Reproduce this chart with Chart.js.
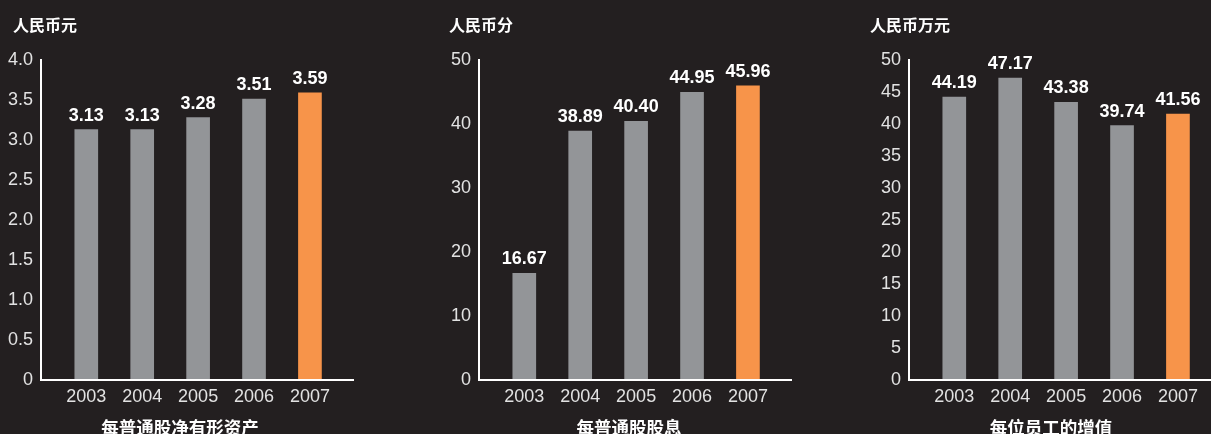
<!DOCTYPE html>
<html>
<head>
<meta charset="utf-8">
<script src="https://cdn.jsdelivr.net/npm/chart.js@4.4.0/dist/chart.umd.min.js"></script>
<style>
  html, body { margin: 0; padding: 0; background: #231f20; }
  #wrap { position: relative; width: 1211px; height: 434px; overflow: hidden; background: #231f20; }
  .panel { position: absolute; top: 0; height: 434px; }
  .unit, .caption {
    position: absolute; color: #fff; font-family: "Noto Sans CJK SC", sans-serif;
    font-weight: bold; white-space: nowrap; line-height: 1;
  }
  .unit { top: 16px; font-size: 16px; }
  .caption { top: 418px; font-size: 17.5px; transform: translateX(-50%); }
</style>
</head>
<body>
<div id="wrap">
  <div class="panel" style="left:0;width:400px"><canvas id="c1"></canvas></div>
  <div class="panel" style="left:438px;width:400px"><canvas id="c2"></canvas></div>
  <div class="panel" style="left:868px;width:400px"><canvas id="c3"></canvas></div>

  <div class="unit" style="left:13px">人民币元</div>
  <div class="unit" style="left:449px">人民币分</div>
  <div class="unit" style="left:870px">人民币万元</div>

  <div class="caption" style="left:180px">每普通股净有形资产</div>
  <div class="caption" style="left:629px">每普通股股息</div>
  <div class="caption" style="left:1051px">每位员工的增值</div>
</div>
<script>
// data
const years = [2003, 2004, 2005, 2006, 2007];
const netAssetPerShare = [3.13, 3.13, 3.28, 3.51, 3.59];
const dividendPerShare = [16.67, 38.89, 40.40, 44.95, 45.96];
const valuePerEmployee = [44.19, 47.17, 43.38, 39.74, 41.56];

const GRAY = '#939598';
const ORANGE = '#f7944a';
const TICK_COLOR = '#e2e2e2';
const numFont = '"Liberation Sans", Arial, sans-serif';

// draws value labels on top of every bar
const valueLabels = {
  id: 'valueLabels',
  afterDatasetsDraw(chart) {
    const ctx = chart.ctx;
    const meta = chart.getDatasetMeta(0);
    const ds = chart.data.datasets[0];
    ctx.save();
    ctx.fillStyle = '#ffffff';
    ctx.font = 'bold 18px ' + numFont;
    ctx.textAlign = 'center';
    ctx.textBaseline = 'alphabetic';
    meta.data.forEach((bar, i) => {
      ctx.fillText(ds.labelText[i], bar.x, bar.y - 9);
    });
    ctx.restore();
  }
};

function makeChart(id, values, yMax, yStep, decimals, tickFmt) {
  const ctx = document.getElementById(id).getContext('2d');
  return new Chart(ctx, {
    type: 'bar',
    data: {
      datasets: [{
        data: years.map((y, i) => ({ x: y, y: values[i] })),
        labelText: values.map(v => v.toFixed(decimals)),
        backgroundColor: years.map((y, i) => i === years.length - 1 ? ORANGE : GRAY),
        barThickness: 23,
        borderWidth: 0
      }]
    },
    options: {
      responsive: false,
      animation: false,
      devicePixelRatio: 1,
      layout: { padding: { left: 1, right: 47, top: 60, bottom: 0 } },
      plugins: { legend: { display: false }, tooltip: { enabled: false } },
      scales: {
        x: {
          type: 'linear',
          min: 2002.19,
          max: 2007.77,
          offset: false,
          grid: { display: false, drawTicks: false },
          border: { display: true, color: '#ffffff', width: 2, z: 1 },
          afterBuildTicks: s => { s.ticks = years.map(v => ({ value: v })); },
          afterFit: s => { s.height = 54; },
          ticks: {
            color: TICK_COLOR,
            font: { family: numFont, size: 18 },
            padding: 6,
            maxRotation: 0,
            autoSkip: false,
            callback: v => String(v)
          }
        },
        y: {
          min: 0,
          max: yMax,
          grid: { display: false, drawTicks: false },
          border: { display: true, color: '#ffffff', width: 2, z: 1 },
          afterFit: s => { s.width = 40; },
          ticks: {
            stepSize: yStep,
            color: TICK_COLOR,
            font: { family: numFont, size: 18 },
            padding: 8,
            callback: tickFmt
          }
        }
      }
    },
    plugins: [valueLabels]
  });
}

['c1', 'c2', 'c3'].forEach(id => {
  const c = document.getElementById(id);
  c.width = 400; c.height = 434;
});

makeChart('c1', netAssetPerShare, 4, 0.5, 2, v => v === 0 ? '0' : v.toFixed(1));
makeChart('c2', dividendPerShare, 50, 10, 2, v => String(v));
makeChart('c3', valuePerEmployee, 50, 5, 2, v => String(v));
</script>
</body>
</html>
